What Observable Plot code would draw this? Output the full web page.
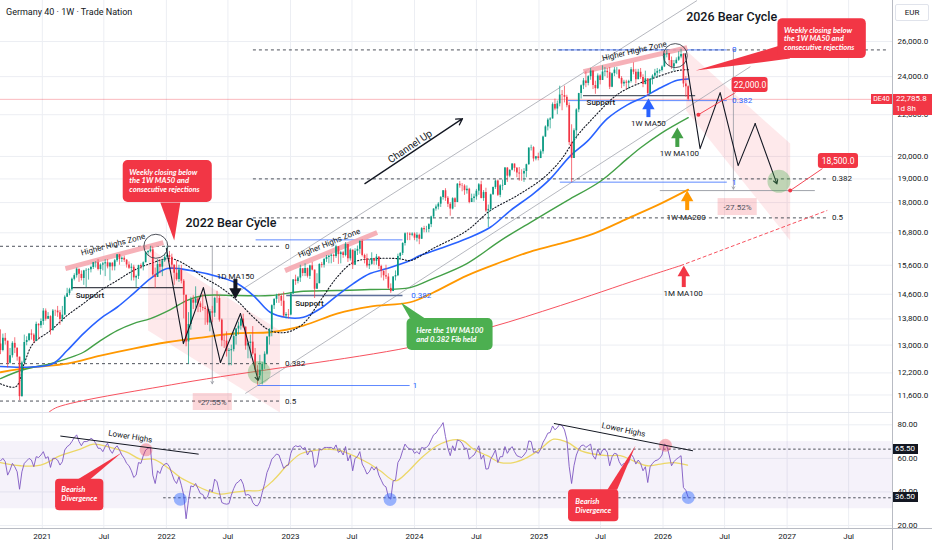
<!DOCTYPE html>
<html>
<head>
<meta charset="utf-8">
<script src="https://cdn.jsdelivr.net/npm/d3@7"></script>
<script src="https://cdn.jsdelivr.net/npm/@observablehq/plot@0.6"></script>
<style>
html,body{margin:0;padding:0;background:#fff;}
#wrap{position:relative;width:932px;height:550px;overflow:hidden;background:#fff;font-family:Roboto,"Open Sans",sans-serif;color:#131722;}
#wrap svg{position:absolute;left:0;}
.ov{position:absolute;white-space:nowrap;box-sizing:border-box;}
</style>
</head>
<body>
<div id="wrap"></div>
<script>
// ================= DATA =================
const startWeek = "2020-08-31";
const firstOpen = 13033;
const closes = [
12842,13202,13116,12469,12689,13051,12909,12646,11556,12480,13077,13137,13335,13298,13114,13630,13587,13719,
14049,13787,13873,13433,14056,14050,13993,13786,13920,14502,14621,14749,15107,15234,15460,15279,15136,15400,15417,15437,15520,15693,15693,15448,15607,15650,15688,15540,15669,15544,15761,15977,15808,15852,15781,15609,15490,15532,15156,15207,15587,15543,15688,16054,16094,16160,15257,15169,15623,15532,15756,15885,
15948,15883,15603,15318,15100,15425,15042,14567,13094,13628,14413,14306,14446,14284,14164,14142,14098,13674,14027,13982,14462,14460,13762,13127,13118,12813,12833,12864,13254,13484,13574,13795,13544,12971,13050,13088,12741,12284,12114,12273,12438,12731,13243,13459,14224,14431,14541,14529,14371,13893,13940,13924,
14610,15086,15033,15150,15476,15307,15482,15210,15578,15428,14768,14957,15629,15598,15808,15882,15922,15961,15914,16275,15983,16051,15950,16358,15830,16148,15603,16105,16177,16470,15952,15832,15575,15632,15840,15740,15894,15557,15387,15229,15186,14798,14688,15189,15234,15919,16029,16398,16759,16751,16707,16752,
16594,16705,16555,16961,16918,16926,17117,17419,17735,17815,17937,18206,18492,18175,17930,17737,18161,18001,18773,18704,18693,18498,18557,18002,18164,18235,18475,18748,18171,18417,17661,17723,18322,18633,18907,18302,18699,18720,19474,19121,19374,19657,19464,19255,19216,19211,19323,19626,20385,20406,19885,19984,19906,
20215,20903,21395,21732,21787,22513,22287,22551,23009,22986,22892,22461,20641,19908,21205,22242,23087,23499,23767,23630,23997,24304,23516,23350,24033,23787,24255,24290,24217,23425,24163,24359,24363,23902,23597,23698,23639,23739,24378,24241,23831,24240,23958,23569,23876,23091,23837,24028,24186,24288,24340,24539,
25261,25297,24900,24538,24721,24914,25100,25250,23600,23450,22785.8];
const highs = [
13460,13330,13350,13000,12900,13100,13220,12900,12600,12530,13300,13250,13350,13460,13340,13700,13650,13800,
14130,14120,14000,13900,14100,14080,14200,14070,14200,14550,14800,14800,15150,15300,15500,15460,15400,15420,15480,15480,15560,15700,15730,15800,15650,15700,15800,15800,15700,15700,15810,15980,15990,15900,15930,15800,15720,15650,15600,15250,15600,15650,15720,16100,16130,16290,16250,15500,15800,15800,15800,16000,
16290,16100,16000,15600,15750,15600,15600,15100,14500,14000,14500,14550,14850,14500,14350,14600,14200,14200,14100,14200,14500,14700,14550,13800,13300,13400,12900,13000,13380,13500,13700,13800,13950,13500,13100,13300,13560,12900,12400,12700,12500,12800,13250,13500,14250,14450,14600,14620,14600,14670,14000,14100,
14650,15100,15250,15200,15600,15450,15650,15500,15600,15700,15400,15300,15650,15700,15850,15950,15950,16000,16000,16330,16250,16100,16100,16430,16300,16200,16100,16200,16300,16500,16530,16000,16000,15800,16050,15850,15990,15850,15600,15400,15600,15300,14950,15200,15400,16000,16050,16420,16800,16800,16800,16800,
16800,16800,16750,17000,17050,17050,17150,17450,17750,17900,18000,18250,18500,18580,18250,18000,18200,18200,18800,18890,18800,18750,18700,18600,18350,18350,18550,18800,18900,18500,18600,17900,18350,18650,18950,18950,18750,18950,19500,19500,19400,19670,19600,19500,19500,19400,19450,19650,20400,20520,20450,20000,20150,
20300,20950,21450,21800,21850,22600,22800,22700,23480,23250,23480,23000,22600,21500,21300,22300,23100,23550,23900,24250,24050,24450,24300,23750,24150,24100,24600,24500,24450,24500,24200,24500,24500,24300,24000,23800,23800,23800,24500,24770,24400,24400,24450,24100,24300,23800,23900,24100,24400,24450,24400,24600,
25300,25500,25300,25100,24900,25050,25400,25550,25300,24000,23500];
const lows = [
12720,12800,13000,12340,12450,12620,12750,12530,11450,11550,12500,12980,13100,13150,13050,13100,13150,13500,
13600,13730,13800,13300,13500,13880,13850,13600,13700,13900,14500,14550,14700,15050,15150,15000,15050,14900,14820,15080,15330,15450,15500,15400,15250,15400,15200,15470,15050,15400,15400,15700,15600,15700,15700,15500,15450,15050,15050,14820,15100,15450,15400,15700,15950,16050,15200,14800,15250,15300,15200,15700,
15850,15700,15450,14900,15050,15000,14950,13800,12950,12440,13450,14100,14150,14000,14000,14050,13600,13600,13400,13680,13850,14300,13700,12950,12900,12650,12400,12400,12800,13000,13300,13450,13500,12850,12600,12600,12700,12200,11860,12000,11870,12300,12700,13000,13250,14100,14300,14300,14200,13850,13800,13800,
13900,14600,14900,14950,15000,15200,15200,15150,15100,15400,14460,14800,14950,15500,15500,15700,15650,15650,15700,15850,15630,15650,15850,15900,15700,15750,15450,15600,15950,16000,15900,15650,15500,15450,15600,15600,15600,15450,15150,15050,15100,14750,14630,14700,15050,15200,15800,15950,16300,16500,16500,16650,
16500,16450,16350,16550,16800,16800,16800,17000,17350,17650,17700,17800,18100,18050,17800,17450,17700,17800,18000,18600,18450,18300,18350,17950,18050,18000,18100,18300,18150,18050,17600,17000,17650,18300,18550,18250,18200,18500,18750,18850,19050,19350,19300,19050,18900,18900,18850,19050,19600,20250,19750,19800,19800,
19900,20100,20900,21200,21300,21800,22200,22000,22400,22200,22600,22350,20500,18850,20200,20800,22100,22800,23300,23400,23500,23800,23300,23050,23300,23550,23800,24000,23900,23300,23400,24000,24100,23850,23350,23450,23300,23300,23650,24100,23600,23850,23850,23400,23550,22950,23050,23550,23950,23900,24150,24250,
24500,25050,24550,24400,24300,24700,24850,25000,23400,22900,22700];
const rsi = [
58.5,60,58,50,53,57,55,52,41.6,52, 57,58.5,60,59,55,61,60.5,62,64,60, 61,54.6,60,60,59,56,58,65,67,68,
70,72.4,74,70,67.5,70,70,70.5,72,71, 69,66,66,64,67,69,65,63,66,67.5, 65,62,60,57,55.6,52.6,48.6,50,57.5,57,
61.6,65,66,66.5,50,45,52.6,51,55,56.6, 57,55,51,47,45,49,44,38,24,35, 43.6,43,45,42,39,38.5,35.7,37,41.6,40,
47.6,46,39.7,33.7,33,32.7,33,38,42,45, 46,47.6,44.6,38,38.5,37.7,33.7,32,31.7,34, 39.7,45,51.6,55,59.5,61,62.6,62,58,54,
55.6,56,63,66.5,67.5,67,67.5,65.5,66.5,62, 64.5,64,54.6,57,65.5,65,66.5,66.5,66.5,66.5, 65.5,68,63.6,64.6,62,67,58.5,62,52.6,60,
61,64,56.6,54,50.6,52,55,53,55,50, 47,44,43,37,35.7,46.6,47,57.5,60,64.6, 68.5,66.5,65.5,65.5,63,64,62.6,66.5,66,66.5,
68,71,74,75,77.3,79,81.3,73,66,61.6, 67.5,64.5,71,70.4,69,66,66,59.5,61,62, 64.6,67.5,59.5,62,53.6,53.8,59.5,62,65,57.5,
61,61,67,63,65.5,67,64,61.6,61,60.5, 62,64,70.4,70,63.6,64,63,65.5,69.5,72, 75,75.4,79.3,77,78.3,80.3,79.5,77,71.4,55,
45,55.6,62,65.5,67.5,68,66.5,67.5,68.5,61.6, 59.5,65.5,62,65,65.5,63.6,55.6,61,63,62.6, 58,55.6,57,56,57.5,62.6,60.5,56.6,59,57,
52.6,55,45.6,55,57,58.5,59,60,62,68.5, 67.5,62,55.6,58,59.5,60.5,61.6,42.6,41,36.7];
const rsiMA = [["2020-08-31",57.5],["2020-10-29",55.6],["2020-12-27",56],["2021-02-23",61.6],["2021-04-23",65.5],["2021-06-01",68.5],["2021-07-20",66.5],["2021-09-08",63.6],["2021-10-16",59.5],["2021-11-23",59.5],["2022-01-04",54.6],["2022-02-11",48.6],["2022-03-21",44.6],["2022-05-02",40.7],["2022-06-09",38.7],["2022-07-17",39.7],["2022-08-27",40.7],["2022-10-05",41],["2022-11-12",47],["2022-12-23",56],["2023-01-30",62.6],["2023-03-09",64.6],["2023-04-19",65.5],["2023-05-28",64.6],["2023-07-05",61.6],["2023-08-15",57.5],["2023-09-22",52.6],["2023-11-05",46.6],["2023-12-10",51.6],["2024-01-17",59.5],["2024-03-07",67.5],["2024-04-23",71],["2024-05-23",70.4],["2024-06-22",65.5],["2024-08-02",61.6],["2024-09-10",57.5],["2024-10-18",57.5],["2024-11-28",60.6],["2025-01-05",65.5],["2025-02-13",71.4],["2025-03-26",69.5],["2025-05-03",64.6],["2025-06-10",62.6],["2025-07-21",61.6],["2025-08-28",61.6],["2025-10-06",58.5],["2025-11-16",55.6],["2025-12-24",56.6],["2026-01-31",57.5],["2026-03-14",56]];
const ma50 = [["2020-08-31",12380],["2020-11-15",12360],["2021-01-30",12450],["2021-03-15",12839],["2021-05-02",13347],["2021-06-21",13812],["2021-08-09",14173],["2021-09-26",14623],["2021-11-15",15132],["2022-01-03",15482],["2022-03-13",15411],["2022-06-08",15177],["2022-07-28",14961],["2022-09-14",14557],["2022-11-02",14012],["2022-12-21",13843],["2023-02-08",13853],["2023-03-30",14131],["2023-05-18",14557],["2023-07-05",14961],["2023-08-23",15306],["2023-10-12",15482],["2023-12-19",15768],["2024-01-17",15948],["2024-03-16",16205],["2024-06-03",16580],["2024-08-11",17013],["2024-10-09",17674],["2024-12-16",18374],["2025-02-04",19014],["2025-04-04",20039],["2025-05-23",20700],["2025-07-21",21800],["2025-09-18",22500],["2025-11-05",22900],["2025-12-25",23400],["2026-02-12",23800],["2026-03-16",23870]];
const ma100 = [["2020-08-31",12044],["2020-10-29",12266],["2020-12-05",12359],["2021-01-25",12463],["2021-03-15",12606],["2021-05-02",12789],["2021-06-21",13135],["2021-08-09",13439],["2021-09-26",13655],["2021-11-15",13812],["2022-01-13",14100],["2022-03-03",14400],["2022-04-20",14557],["2022-07-28",14557],["2022-11-02",14557],["2023-02-08",14700],["2023-05-18",14724],["2023-08-23",14757],["2023-12-19",14825],["2024-02-24",15132],["2024-06-03",15660],["2024-09-10",16504],["2024-12-16",17275],["2025-03-25",18082],["2025-07-01",18900],["2025-09-18",19900],["2025-10-27",20400],["2025-12-25",21071],["2026-03-16",21850]];
const ma200 = [["2020-08-31",12218],["2020-12-05",12359],["2021-03-15",12463],["2021-06-21",12693],["2021-09-26",12898],["2022-01-03",13084],["2022-04-20",13234],["2022-07-28",13356],["2022-11-02",13387],["2023-02-08",13593],["2023-05-18",13970],["2023-08-23",14196],["2023-12-19",14336],["2024-02-24",14650],["2024-06-03",15237],["2024-09-10",15706],["2024-12-16",16132],["2025-03-05",16392],["2025-06-11",16770],["2025-09-18",17354],["2025-12-25",17959],["2026-03-16",18542]];
const ma1m100 = [["2021-01-20",11150],["2021-02-14",11280],["2022-02-11",11915],["2023-12-19",12936],["2024-08-11",13540],["2025-03-05",14228],["2025-10-27",15132],["2026-02-22",15588]];
const ma1m100Proj = [["2026-02-22",15588],["2027-04-28",17674]];
const ma150d = [["2020-08-31",11900],["2020-10-15",11820],["2020-11-10",12500],["2020-12-05",13045],["2021-01-25",13439],["2021-03-15",13907],["2021-05-02",14293],["2021-06-21",14724],["2021-08-09",15064],["2021-09-26",15411],["2021-11-15",15660],["2022-01-13",15840],["2022-03-03",15588],["2022-04-20",15177],["2022-06-09",14835],["2022-07-28",14391],["2022-09-14",13853],["2022-11-02",13439],["2022-12-21",13387],["2023-02-08",13655],["2023-03-30",14391],["2023-05-18",15177],["2023-07-05",15706],["2023-09-12",15840],["2023-11-20",15830],["2023-12-19",15768],["2024-02-24",16205],["2024-06-03",16885],["2024-08-11",17674],["2024-10-29",18290],["2025-01-14",19040],["2025-03-05",19812],["2025-04-24",20975],["2025-06-11",21865],["2025-08-08",22876],["2025-09-18",23351],["2025-12-25",24055],["2026-02-12",24331],["2026-03-16",24386]];
const priceTicks = [11600,12200,13000,13800,14600,15600,16800,18000,19000,20000,22000,24000,26000];
const rsiTicks = [20,40,60,80];
const tickYears = [2021,2022,2023,2024,2025,2026,2027];
const lastPrice = 22785.8;
const rsiLevels = [65.5, 36.5];

// ---- annotation data (dates / prices) ----
const dashedLevels = [{p:16290,a:"2020-08-31",b:"2022-12-05"},{p:12460,a:"2020-08-31",b:"2022-12-05"},{p:11440,a:"2020-08-31",b:"2022-12-05"},{p:25509,a:"2022-09-14",b:"2027-10-25"},{p:19001,a:"2022-09-14",b:"2027-04-28"},{p:17382,a:"2022-09-14",b:"2027-04-28"}];
const blueLevels = [{p:11853,a:"2022-09-28",b:"2023-12-19"},{p:16531,a:"2022-09-22",b:"2023-11-28"},{p:25509,a:"2025-02-26",b:"2026-07-09"},{p:22720,a:"2025-03-29",b:"2026-07-09"},{p:18860,a:"2025-03-05",b:"2026-07-09"}];
const supportLines = [{p:14820,a:"2021-03-29",b:"2022-02-20"},{p:14557,a:"2022-12-21",b:"2023-11-28"},{p:22981,a:"2025-05-12",b:"2026-04-07"}];
const grayLevels = [{p:18500,a:"2025-12-24",b:"2027-03-25"}];
const measures = [{d:"2026-07-27",p1:25509,p2:18560},{d:"2022-05-16",p1:16290,p2:11900}];
const blackFibLabels = [{d:"2022-12-16",p:16290,t:"0"},{d:"2022-12-16",p:12460,t:"0.382"},{d:"2022-12-16",p:11440,t:"0.5"},{d:"2027-05-13",p:19001,t:"0.382"},{d:"2027-05-13",p:17382,t:"0.5"}];
const blueFibLabels = [{d:"2023-12-27",p:11853,t:"1"},{d:"2023-12-22",p:14557,t:"0.382"},{d:"2026-07-23",p:25509,t:"0"},{d:"2026-07-23",p:22720,t:"0.382"},{d:"2026-07-23",p:18860,t:"1"}];
const zone2022 = [["2021-11-08",16243],["2022-12-01",13439],["2022-12-01",11145],["2021-11-08",13439]];
const zone2026 = [["2026-03-10",25469],["2027-01-10",20596],["2027-01-10",16504],["2026-03-10",22207]];
const channelLines = [{a:"2022-07-28",pa:14657,b:"2026-04-11",pb:28556},{a:"2022-08-21",pa:11639,b:"2026-09-15",pb:24554}];
const channelArrow = [{a:"2023-08-08",pa:18798,b:"2024-05-21",pb:21806}];
const channelText = [{d:"2023-12-19",p:20455,t:"Channel Up"}];
const hhBands = [{a:"2021-03-10",pa:15482,b:"2021-12-23",pb:16429},{a:"2022-12-16",pa:15411,b:"2023-09-13",pb:16809},{a:"2025-05-12",pa:24276,b:"2026-03-13",pb:25643}];
const hhTexts = [{d:"2021-07-28",p:16354,r:-15},{d:"2023-04-25",p:16410,r:-22},{d:"2025-10-09",p:25439,r:-13}];
const zigzag2022 = [["2022-01-01",16205],["2022-02-20",13045],["2022-04-20",14825],["2022-06-09",12492],["2022-08-07",13970],["2022-09-28",11989]];
const zigzag2026 = [["2026-03-07",25294],["2026-04-20",20362],["2026-06-18",23139],["2026-08-10",19587],["2026-09-29",21558],["2026-12-02",18786]];
const topCircles = [{d:"2021-12-01",p:16291},{d:"2026-02-06",p:25179}];
const targetCircles = [{d:"2022-10-01",p:12210},{d:"2026-12-08",p:18898}];
const titles = [{d:"2022-02-26",p:17168,t:"2022 Bear Cycle"},{d:"2026-03-10",p:27524,t:"2026 Bear Cycle"}];
const supportTexts = [{d:"2021-04-09",p:14557},{d:"2023-01-15",p:14303},{d:"2025-05-21",p:22632}];
const maLabels = [{d:"2025-11-19",p:21573,t:"1W MA50"},{d:"2026-02-18",p:20117,t:"1W MA100"},{d:"2026-03-10",p:17382,t:"1W-MA200"},{d:"2026-03-01",p:14633,t:"1M MA100"},{d:"2022-07-23",p:15213,t:"1D MA150"}];
const upArrows = [{d:"2025-11-19",tip:22463,base:21855,c:"#2962ff"},{d:"2026-02-12",tip:21023,base:20415,c:"#43a047"},{d:"2026-03-13",tip:18207,base:17674,c:"#ff9800"},{d:"2026-03-03",tip:15342,base:14825,c:"#f23645"}];
const downArrows = [{d:"2022-07-23",top:15098,head:14680,c:"#131722"}];
const redBoxes = [{a:"2021-08-27",b:"2022-05-16",p1:19812,p2:18000},{a:"2026-12-05",b:"2027-08-22",p1:27398,p2:25007}];
const redTails = [[["2021-12-14",18000],["2022-02-11",18000],["2022-01-24",16504]],[["2026-12-11",25760],["2027-01-10",25007],["2026-04-07",24331]]];
const redTexts = [{d:"2021-09-14",p:18928},{d:"2026-12-23",p:26181}];
const greenBox = [{a:"2023-12-10",b:"2024-08-19",p1:13812,p2:12839}];
const greenTail = [["2023-12-19",13812],["2024-02-01",13812],["2023-11-22",14326]];
const greenText = [{d:"2024-01-06",p:13317}];
const valueBoxes = [{a:"2026-07-23",b:"2026-11-06",p1:23945,p2:23139,t:"22,000.0",d:"2026-09-14",p:23539},{a:"2027-04-03",b:"2027-07-30",p1:20131,p2:19453,t:"18,500.0",d:"2027-05-31",p:19789}];
const valueLinks = [{a:"2026-04-15",pa:22000,b:"2026-08-02",pb:23139},{a:"2027-01-10",pa:18500,b:"2027-04-15",pb:19453}];
const valueDots = [{d:"2026-04-15",p:22000},{d:"2027-01-10",p:18500}];
const pctBoxes = [{a:"2026-06-12",b:"2026-10-05",p1:18165,p2:17474,t:"-27.52%",d:"2026-08-08",p:17815},{a:"2022-03-21",b:"2022-07-14",p1:11639,p2:11196,t:"-27.55%",d:"2022-05-17",p:11415}];
// RSI annotations
const lowerHighs = [{a:"2021-02-23",ra:73.3,b:"2022-04-06",rb:62.5},{a:"2025-02-14",ra:80.8,b:"2026-03-30",rb:64.5}];
const lowerHighsText = [{d:"2021-09-17",r:73.0,rot:9},{d:"2025-09-07",r:77.0,rot:12}];
const pinkRsi = [{d:"2021-11-02",r:65.1},{d:"2026-01-08",r:67.8}];
const blueRsi = [{d:"2022-02-11",r:35.7},{d:"2023-10-21",r:35.5},{d:"2026-03-16",r:36.7}];
const divBoxes = [{a:"2021-02-09",b:"2021-07-01",r1:47.6,r2:28.8},{a:"2025-03-29",b:"2025-08-24",r1:41.3,r2:22.2}];
const divTails = [[["2021-04-16",47.6],["2021-05-22",47.6],["2021-08-23",63.5]],[["2025-07-21",41.3],["2025-08-19",41.3],["2025-10-12",67.5]]];
const divTexts = [{d:"2021-02-26",r:38.8},{d:"2025-04-18",r:31.7}];

// ================= BUILD =================
const D = d3.utcParse("%Y-%m-%d");
const F = "Roboto, 'Open Sans', sans-serif";
const INK = "#131722", UP = "#089981", DOWN = "#f23645", RED = "#f23645";
const weeks = d3.utcMonday.range(D(startWeek), d3.utcDay.offset(D(startWeek), closes.length * 7));
const candles = closes.map((c, i) => {
  const o = i ? closes[i - 1] : firstOpen;
  return {date: weeks[i], o, c, h: Math.max(highs[i], o, c), l: Math.min(lows[i], o, c)};
});
const upC = candles.filter(d => d.c >= d.o), dnC = candles.filter(d => d.c < d.o);
const pts = arr => arr.map(([d, v]) => ({date: D(d), v}));
const xDomain = [D("2020-08-31"), D("2027-11-07")];
const xTicks = tickYears.flatMap(y => [new Date(Date.UTC(y, 0, 1)), new Date(Date.UTC(y, 6, 1))]);
const xFmt = d => d.getUTCMonth() === 0 ? String(d.getUTCFullYear()) : "Jul";
const GRID = "#eceef3";
const calloutFont = {fontFamily: "Lato, Roboto, sans-serif", fontStyle: "italic", fontWeight: 700, fontSize: 7.6, fill: "white", textAnchor: "start", lineAnchor: "middle", lineHeight: 1.12};
const lvl = (data, o) => Plot.ruleY(data, {y: "p", x1: d => D(d.a), x2: d => D(d.b), ...o});
const poly = (arr, o) => Plot.line(pts(arr), {x: "date", y: "v", stroke: "none", ...o});

const main = Plot.plot({
  width: 932, height: 412, marginLeft: 0, marginRight: 40, marginTop: 0, marginBottom: 0,
  style: {fontFamily: F, fontSize: "8px", color: INK, background: "transparent"},
  x: {type: "utc", domain: xDomain, axis: null},
  y: {type: "log", domain: [11145, 28556]},
  marks: [
    Plot.gridX(xTicks, {stroke: GRID, strokeOpacity: 1}),
    Plot.gridY(priceTicks, {stroke: GRID, strokeOpacity: 1}),
    poly(zone2022, {fill: RED, fillOpacity: 0.11}),
    poly(zone2026, {fill: RED, fillOpacity: 0.11}),
    Plot.link(channelLines, {x1: d => D(d.a), y1: "pa", x2: d => D(d.b), y2: "pb", stroke: "#a3a6af", strokeWidth: 0.8}),
    lvl(dashedLevels, {stroke: "#3a3e48", strokeWidth: 0.9, strokeDasharray: "3,3"}),
    lvl(blueLevels, {stroke: "#2962ff", strokeOpacity: 0.75, strokeWidth: 1}),
    lvl(supportLines.slice(0, 1), {stroke: "#131722", strokeWidth: 1}),
    lvl(supportLines.slice(1, 2), {stroke: "#5d6f99", strokeWidth: 1.6}),
    lvl(supportLines.slice(2, 3), {stroke: "#555b66", strokeWidth: 1.2}),
    lvl(grayLevels, {stroke: "#9598a1", strokeWidth: 0.9}),
    Plot.arrow(measures, {x1: d => D(d.d), x2: d => D(d.d), y1: "p1", y2: "p2", stroke: "#9598a1", strokeWidth: 0.8, headLength: 5}),
    Plot.ruleY([lastPrice], {stroke: RED, strokeOpacity: 0.35, strokeWidth: 1}),
    Plot.link(hhBands, {x1: d => D(d.a), y1: "pa", x2: d => D(d.b), y2: "pb", stroke: "#f5a3ab", strokeOpacity: 0.85, strokeWidth: 5}),
    // moving averages
    Plot.line(pts(ma1m100), {x: "date", y: "v", stroke: "#f7525f", strokeWidth: 1, curve: "catmull-rom"}),
    Plot.line(pts(ma1m100Proj), {x: "date", y: "v", stroke: "#f7525f", strokeWidth: 1, strokeDasharray: "3,3"}),
    Plot.line(pts(ma200), {x: "date", y: "v", stroke: "#ff9800", strokeWidth: 1.8, curve: "catmull-rom"}),
    Plot.line(pts(ma100), {x: "date", y: "v", stroke: "#43a047", strokeWidth: 1.4, curve: "catmull-rom"}),
    Plot.line(pts(ma50), {x: "date", y: "v", stroke: "#2962ff", strokeWidth: 1.6, curve: "catmull-rom"}),
    Plot.line(pts(ma150d), {x: "date", y: "v", stroke: "#131722", strokeWidth: 1.1, strokeDasharray: "1.2,2", curve: "catmull-rom"}),
    // candles
    Plot.ruleX(upC, {x: "date", y1: "l", y2: "h", stroke: UP, strokeWidth: 0.7}),
    Plot.ruleX(dnC, {x: "date", y1: "l", y2: "h", stroke: DOWN, strokeWidth: 0.7}),
    Plot.ruleX(upC, {x: "date", y1: "o", y2: "c", stroke: UP, strokeWidth: 1.7}),
    Plot.ruleX(dnC, {x: "date", y1: "o", y2: "c", stroke: DOWN, strokeWidth: 1.7}),
    // projections
    Plot.line(pts(zigzag2022.slice(0, -1)), {x: "date", y: "v", stroke: INK, strokeWidth: 1.1}),
    Plot.arrow([zigzag2022.slice(-2)], {x1: d => D(d[0][0]), y1: d => d[0][1], x2: d => D(d[1][0]), y2: d => d[1][1], stroke: INK, strokeWidth: 1.1, headLength: 6}),
    Plot.line(pts(zigzag2026.slice(0, -1)), {x: "date", y: "v", stroke: INK, strokeWidth: 1.1}),
    Plot.arrow([zigzag2026.slice(-2)], {x1: d => D(d[0][0]), y1: d => d[0][1], x2: d => D(d[1][0]), y2: d => d[1][1], stroke: INK, strokeWidth: 1.1, headLength: 6}),
    Plot.arrow(channelArrow, {x1: d => D(d.a), y1: "pa", x2: d => D(d.b), y2: "pb", stroke: INK, strokeWidth: 1.3, headLength: 8}),
    Plot.dot(targetCircles, {x: d => D(d.d), y: "p", r: 11.5, fill: "#4caf50", fillOpacity: 0.35, stroke: "none"}),
    Plot.dot(topCircles, {x: d => D(d.d), y: "p", r: 12, fill: "none", stroke: "#3a3e48", strokeWidth: 0.9}),
    // arrow markers
    ...upArrows.map(a => [
      Plot.ruleX([a], {x: d => D(d.d), y1: "base", y2: "tip", stroke: a.c, strokeWidth: 4}),
      Plot.dot([a], {x: d => D(d.d), y: "tip", symbol: "triangle", r: 4.6, fill: a.c, stroke: "none"})
    ]),
    ...downArrows.map(a => [
      Plot.ruleX([a], {x: d => D(d.d), y1: "top", y2: "head", stroke: a.c, strokeWidth: 4}),
      Plot.dot([a], {x: d => D(d.d), y: "head", symbol: "triangle", rotate: 180, r: 4.6, fill: a.c, stroke: "none"})
    ]),
    // value boxes
    Plot.link(valueLinks, {x1: d => D(d.a), y1: "pa", x2: d => D(d.b), y2: "pb", stroke: RED, strokeWidth: 0.9}),
    Plot.dot(valueDots, {x: d => D(d.d), y: "p", r: 2, fill: RED}),
    Plot.rect(valueBoxes, {x1: d => D(d.a), x2: d => D(d.b), y1: "p1", y2: "p2", fill: RED, rx: 3}),
    Plot.text(valueBoxes, {x: d => D(d.d), y: "p", text: "t", fill: "white", fontSize: 8.5}),
    Plot.rect(pctBoxes, {x1: d => D(d.a), x2: d => D(d.b), y1: "p1", y2: "p2", fill: RED, fillOpacity: 0.2}),
    Plot.text(pctBoxes, {x: d => D(d.d), y: "p", text: "t", fill: "#50535e", fontSize: 8}),
    // callouts
    ...redTails.map(t => poly(t, {fill: RED})),
    Plot.rect(redBoxes, {x1: d => D(d.a), x2: d => D(d.b), y1: "p1", y2: "p2", fill: RED, rx: 5}),
    Plot.text(redTexts, {x: d => D(d.d), y: "p", text: () => "Weekly closing below\nthe 1W MA50 and\nconsecutive rejections", ...calloutFont}),
    poly(greenTail, {fill: "#4caf50"}),
    Plot.rect(greenBox, {x1: d => D(d.a), x2: d => D(d.b), y1: "p1", y2: "p2", fill: "#4caf50", rx: 5}),
    Plot.text(greenText, {x: d => D(d.d), y: "p", text: () => "Here the 1W MA100\nand 0.382 Fib held", ...calloutFont}),
    // labels
    Plot.text(titles, {x: d => D(d.d), y: "p", text: "t", fontSize: 12.5, fontWeight: 500, fill: INK, textAnchor: "start"}),
    Plot.text(hhTexts, {x: d => D(d.d), y: "p", text: () => "Higher Highs Zone", rotate: "r", fontSize: 8, fill: INK}),
    Plot.text(channelText, {x: d => D(d.d), y: "p", text: "t", rotate: -34, fontSize: 10, fill: INK}),
    Plot.text(supportTexts, {x: d => D(d.d), y: "p", text: () => "Support", fontSize: 8, fontWeight: 500, fill: INK, textAnchor: "start"}),
    Plot.text(maLabels, {x: d => D(d.d), y: "p", text: "t", fontSize: 8, fill: INK}),
    Plot.text(blackFibLabels, {x: d => D(d.d), y: "p", text: "t", fontSize: 8, fill: INK, textAnchor: "start"}),
    Plot.text(blueFibLabels, {x: d => D(d.d), y: "p", text: "t", fontSize: 8, fill: "#2962ff", textAnchor: "start"}),
    Plot.axisY(priceTicks, {anchor: "right", tickSize: 0, tickPadding: 5, tickFormat: d3.format(",.1f"), fontSize: 8, fill: INK})
  ]
});

const rsiPlot = Plot.plot({
  width: 932, height: 138, marginLeft: 0, marginRight: 40, marginTop: 0, marginBottom: 22,
  style: {fontFamily: F, fontSize: "8px", color: INK, background: "transparent"},
  x: {type: "utc", domain: xDomain},
  y: {domain: [18.2, 87.33]},
  marks: [
    Plot.gridX(xTicks, {stroke: GRID, strokeOpacity: 1}),
    Plot.gridY(rsiTicks, {stroke: GRID, strokeOpacity: 1}),
    Plot.rect([{a: xDomain[0], b: xDomain[1]}], {x1: "a", x2: "b", y1: () => 30, y2: () => 70, fill: "#7e57c2", fillOpacity: 0.08}),
    Plot.ruleY(rsiLevels, {x1: () => D("2021-12-24"), x2: () => xDomain[1], stroke: "#3a3e48", strokeWidth: 0.9, strokeDasharray: "2.5,2.5"}),
    Plot.line(pts(rsiMA), {x: "date", y: "v", stroke: "#ecd767", strokeWidth: 1.3, curve: "catmull-rom"}),
    Plot.line(rsi.map((v, i) => ({date: weeks[i], v})), {x: "date", y: "v", stroke: "#7e57c2", strokeWidth: 0.9}),
    Plot.dot(pinkRsi, {x: d => D(d.d), y: "r", r: 6.5, fill: RED, fillOpacity: 0.35}),
    Plot.dot(blueRsi, {x: d => D(d.d), y: "r", r: 6.5, fill: "#2962ff", fillOpacity: 0.45}),
    Plot.link(lowerHighs, {x1: d => D(d.a), y1: "ra", x2: d => D(d.b), y2: "rb", stroke: INK, strokeWidth: 1}),
    Plot.text(lowerHighsText, {x: d => D(d.d), y: "r", rotate: "rot", text: () => "Lower Highs", fontSize: 8, fill: INK}),
    ...divTails.map(t => poly(t, {fill: RED})),
    Plot.rect(divBoxes, {x1: d => D(d.a), x2: d => D(d.b), y1: "r1", y2: "r2", fill: RED, rx: 4}),
    Plot.text(divTexts, {x: d => D(d.d), y: "r", text: () => "Bearish\nDivergence", ...calloutFont}),
    Plot.axisY(rsiTicks, {anchor: "right", tickSize: 0, tickPadding: 5, tickFormat: d3.format(".2f"), fontSize: 8, fill: INK}),
    Plot.axisX(xTicks, {tickSize: 0, tickPadding: 5, tickFormat: xFmt, fontSize: 8, fill: INK})
  ]
});

// ================= COMPOSE =================
const wrap = document.getElementById("wrap");
main.style.top = "0px"; wrap.append(main);
rsiPlot.style.top = "412px"; wrap.append(rsiPlot);
const add = (html, css) => { const e = document.createElement("div"); e.className = "ov"; e.innerHTML = html; Object.assign(e.style, css); wrap.append(e); return e; };
const yP = main.scale("y").apply(lastPrice);
const yR = v => 412 + rsiPlot.scale("y").apply(v);
add("", {left: "0px", top: "412px", width: "892px", height: "1px", background: "#e0e3eb"});
add("", {left: "0px", top: "528px", width: "932px", height: "1px", background: "#b8bbc3"});
add("", {left: "892px", top: "0px", width: "1px", height: "550px", background: "#b8bbc3"});
add("Germany 40 · 1W · Trade Nation", {left: "6px", top: "7px", fontSize: "9px", color: INK});
add("EUR", {left: "895px", top: "4px", width: "34px", height: "17px", border: "1px solid #e0e3eb", borderRadius: "2px", fontSize: "8px", lineHeight: "15px", textAlign: "center", background: "#fff"});
add("DE40", {left: "871px", top: (yP - 5) + "px", width: "21px", height: "10px", background: RED, color: "#fff", fontSize: "7px", lineHeight: "10px", textAlign: "center"});
add("22,785.8<br>1d 8h", {left: "893px", top: (yP - 5) + "px", width: "39px", height: "21px", background: RED, color: "#fff", fontSize: "8px", lineHeight: "10px", paddingLeft: "3px"});
rsiLevels.forEach(v => add(d3.format(".2f")(v), {left: "893px", top: (yR(v) - 5) + "px", width: "25px", height: "10px", background: "#131722", color: "#fff", fontSize: "8px", lineHeight: "10px", paddingLeft: "2px"}));
</script>
</body>
</html>
